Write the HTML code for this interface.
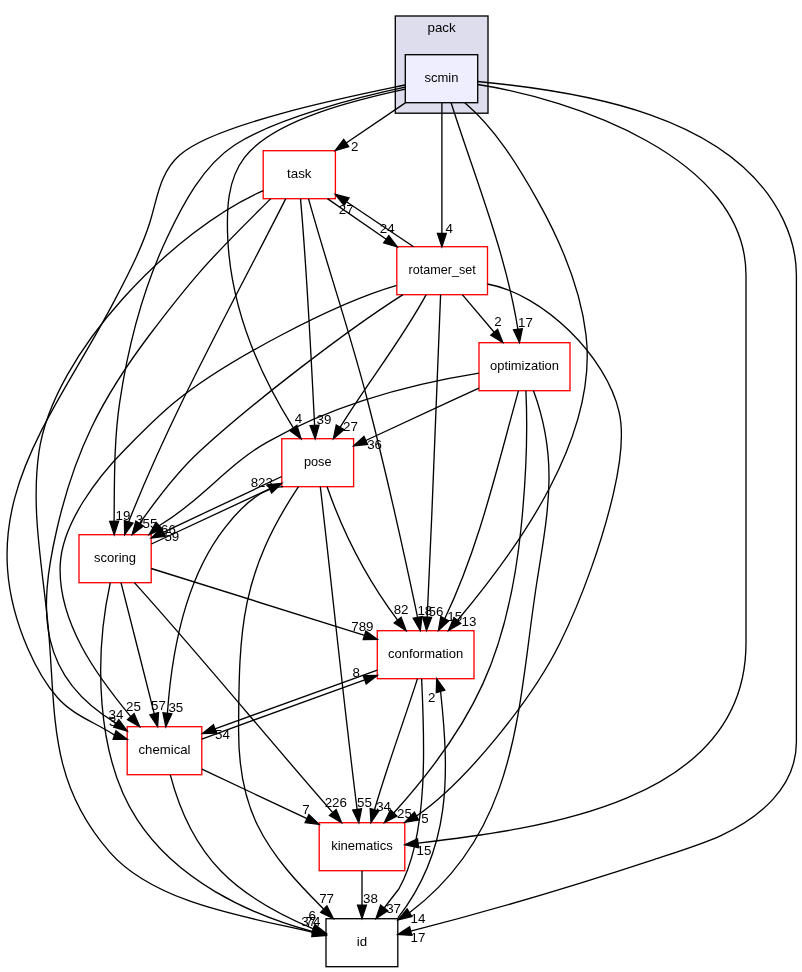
<!DOCTYPE html>
<html><head><meta charset="utf-8"><title>scmin</title>
<style>html,body{margin:0;padding:0;background:#fff}svg{display:block;will-change:transform}text{font-family:'Liberation Sans', 'Helvetica', 'Arial', sans-serif;font-size:13.33px;fill:#000}</style></head>
<body>
<svg width="802" height="972" viewBox="0 0 802 972">
<rect x="0" y="0" width="802" height="972" fill="#ffffff"/>
<rect x="395.3" y="16.0" width="92.7" height="97.2" fill="#ddddee" stroke="#000" stroke-width="1.33"/>
<text x="441.6" y="32.4" text-anchor="middle">pack</text>
<rect x="405.3" y="54.7" width="72.4" height="48.0" fill="#eeeeff" stroke="black" stroke-width="1.33"/>
<text x="441.5" y="82.3" text-anchor="middle" textLength="34.0" lengthAdjust="spacingAndGlyphs">scmin</text>
<rect x="263.2" y="150.7" width="72.2" height="48.0" fill="white" stroke="red" stroke-width="1.33"/>
<text x="299.3" y="178.3" text-anchor="middle">task</text>
<rect x="396.8" y="246.7" width="90.7" height="48.0" fill="white" stroke="red" stroke-width="1.33"/>
<text x="442.1" y="274.3" text-anchor="middle" textLength="67.2" lengthAdjust="spacingAndGlyphs">rotamer_set</text>
<rect x="479.0" y="342.7" width="91.0" height="48.0" fill="white" stroke="red" stroke-width="1.33"/>
<text x="524.5" y="370.3" text-anchor="middle" textLength="69.0" lengthAdjust="spacingAndGlyphs">optimization</text>
<rect x="281.8" y="438.7" width="71.8" height="48.0" fill="white" stroke="red" stroke-width="1.33"/>
<text x="317.7" y="466.3" text-anchor="middle" textLength="27.6" lengthAdjust="spacingAndGlyphs">pose</text>
<rect x="79.0" y="534.7" width="72.2" height="48.0" fill="white" stroke="red" stroke-width="1.33"/>
<text x="115.1" y="562.3" text-anchor="middle" textLength="42.0" lengthAdjust="spacingAndGlyphs">scoring</text>
<rect x="377.3" y="630.7" width="96.7" height="48.0" fill="white" stroke="red" stroke-width="1.33"/>
<text x="425.6" y="658.3" text-anchor="middle" textLength="75.3" lengthAdjust="spacingAndGlyphs">conformation</text>
<rect x="127.2" y="726.7" width="74.6" height="48.0" fill="white" stroke="red" stroke-width="1.33"/>
<text x="164.5" y="754.3" text-anchor="middle" textLength="52.0" lengthAdjust="spacingAndGlyphs">chemical</text>
<rect x="319.2" y="822.7" width="85.6" height="48.0" fill="white" stroke="red" stroke-width="1.33"/>
<text x="362.0" y="850.3" text-anchor="middle" textLength="61.7" lengthAdjust="spacingAndGlyphs">kinematics</text>
<rect x="326.0" y="918.7" width="71.8" height="48.0" fill="white" stroke="black" stroke-width="1.33"/>
<text x="361.9" y="946.3" text-anchor="middle">id</text>
<path d="M405.3,102.9 L346.2,143.0" fill="none" stroke="#000" stroke-width="1.33"/>
<polygon points="343.7,139.3 335.2,150.5 348.7,146.7" fill="#000" stroke="#000" stroke-width="1.33"/>
<text x="354.6" y="151.4" text-anchor="middle">2</text>
<path d="M441.9,102.7 L441.9,233.4" fill="none" stroke="#000" stroke-width="1.33"/>
<polygon points="437.4,233.4 441.9,246.7 446.3,233.4" fill="#000" stroke="#000" stroke-width="1.33"/>
<text x="449.2" y="232.9" text-anchor="middle">4</text>
<path d="M451.1,102.7 C474.8,177.4 505.5,251.5 517.9,329.3" fill="none" stroke="#000" stroke-width="1.33"/>
<polygon points="513.5,329.8 519.5,342.5 522.3,328.7" fill="#000" stroke="#000" stroke-width="1.33"/>
<text x="525.4" y="327.0" text-anchor="middle">17</text>
<path d="M405.3,89.2 C362.1,98.6 274.7,118.3 244.6,157.4 C227.2,180.0 226.6,210.0 227.7,237.2 C230.6,305.3 257.4,370.8 293.3,427.8" fill="none" stroke="#000" stroke-width="1.33"/>
<polygon points="289.7,430.4 301.0,438.7 296.9,425.3" fill="#000" stroke="#000" stroke-width="1.33"/>
<text x="298.5" y="423.0" text-anchor="middle">4</text>
<path d="M405.3,87.2 C360.2,96.4 275.2,118.7 234.7,145.0 C203.1,165.5 182.9,204.2 167.3,237.2 C143.5,287.5 127.9,347.3 119.7,402.3 C113.8,441.5 114.5,481.7 114.1,521.3" fill="none" stroke="#000" stroke-width="1.33"/>
<polygon points="109.7,521.3 114.2,534.6 118.6,521.2" fill="#000" stroke="#000" stroke-width="1.33"/>
<text x="123.0" y="520.1" text-anchor="middle">19</text>
<path d="M464.8,102.7 C495.3,128.6 517.8,165.3 537.2,199.8 C559.9,240.1 580.5,288.5 586.0,335.0 C598.1,436.6 519.6,546.4 457.4,620.5" fill="none" stroke="#000" stroke-width="1.33"/>
<polygon points="454.0,617.6 448.5,630.5 460.7,623.5" fill="#000" stroke="#000" stroke-width="1.33"/>
<text x="468.9" y="626.1" text-anchor="middle">13</text>
<path d="M405.3,85.0 C358.0,94.9 216.2,122.7 179.8,155.0 C159.3,173.1 157.5,197.9 149.9,222.3 C141.5,249.0 127.9,274.9 115.0,299.6 C52.4,419.6 -32.9,508.2 27.9,648.7 C35.2,665.5 45.2,683.7 57.4,697.5 C73.3,715.6 95.3,722.3 114.6,735.1" fill="none" stroke="#000" stroke-width="1.33"/>
<polygon points="113.1,739.3 127.2,739.4 116.0,730.9" fill="#000" stroke="#000" stroke-width="1.33"/>
<text x="112.7" y="725.7" text-anchor="middle">3</text>
<path d="M477.7,84.5 C570.3,98.9 746.0,156.5 746.0,275.0 C746.0,397.7 746.0,520.3 746.0,643.0 C746.0,803.6 538.2,828.9 418.0,843.2" fill="none" stroke="#000" stroke-width="1.33"/>
<polygon points="417.5,838.8 404.8,844.8 418.6,847.7" fill="#000" stroke="#000" stroke-width="1.33"/>
<text x="424.0" y="855.2" text-anchor="middle">15</text>
<path d="M477.7,81.5 C580.5,91.2 733.1,114.4 783.3,219.9 C792.1,238.4 796.4,254.8 796.4,275.0 C796.4,430.7 796.4,586.3 796.4,742.0 C796.4,787.6 759.0,818.2 720.4,835.8 C701.5,844.4 674.3,852.8 654.6,859.3 C573.8,886.0 493.2,910.1 410.7,931.1" fill="none" stroke="#000" stroke-width="1.33"/>
<polygon points="409.6,926.8 397.8,934.5 411.8,935.4" fill="#000" stroke="#000" stroke-width="1.33"/>
<text x="418.0" y="941.9" text-anchor="middle">17</text>
<path d="M327.4,198.6 L386.2,239.2" fill="none" stroke="#000" stroke-width="1.33"/>
<polygon points="383.7,242.9 397.2,246.8 388.8,235.6" fill="#000" stroke="#000" stroke-width="1.33"/>
<text x="387.2" y="233.3" text-anchor="middle">24</text>
<path d="M300.5,198.6 C307.2,274.0 310.8,349.8 314.6,425.4" fill="none" stroke="#000" stroke-width="1.33"/>
<polygon points="310.1,425.6 315.2,438.7 319.0,425.2" fill="#000" stroke="#000" stroke-width="1.33"/>
<text x="323.9" y="423.5" text-anchor="middle">39</text>
<path d="M285.8,198.6 C231.6,305.6 172.9,410.2 128.6,521.9" fill="none" stroke="#000" stroke-width="1.33"/>
<polygon points="124.4,520.6 124.7,534.6 132.9,523.2" fill="#000" stroke="#000" stroke-width="1.33"/>
<text x="139.4" y="523.9" text-anchor="middle">3</text>
<path d="M308.5,198.6 C327.2,266.0 349.9,332.3 367.4,400.0 C386.0,471.8 402.4,544.8 417.6,617.4" fill="none" stroke="#000" stroke-width="1.33"/>
<polygon points="413.3,618.3 420.3,630.5 422.0,616.5" fill="#000" stroke="#000" stroke-width="1.33"/>
<text x="424.8" y="614.9" text-anchor="middle">18</text>
<path d="M270.8,198.6 C246.7,222.7 222.2,246.3 199.8,272.1 C179.7,295.2 168.5,309.9 149.9,334.5 C101.2,398.9 74.6,451.5 56.7,530.0 C38.4,610.1 37.2,676.6 116.3,723.4" fill="none" stroke="#000" stroke-width="1.33"/>
<polygon points="113.7,727.0 127.2,731.0 118.8,719.7" fill="#000" stroke="#000" stroke-width="1.33"/>
<text x="116.0" y="719.0" text-anchor="middle">34</text>
<path d="M263.3,190.6 C174.3,229.1 52.9,352.7 38.9,452.4 C30.3,513.2 43.9,574.2 48.9,634.7 C55.7,718.1 49.7,783.7 109.7,852.1 C155.0,903.8 248.5,917.2 313.1,932.3" fill="none" stroke="#000" stroke-width="1.33"/>
<polygon points="312.0,936.6 326.0,935.5 314.1,928.0" fill="#000" stroke="#000" stroke-width="1.33"/>
<text x="308.7" y="925.9" text-anchor="middle">37</text>
<path d="M413.6,246.7 L346.5,201.7" fill="none" stroke="#000" stroke-width="1.33"/>
<polygon points="349.0,198.0 335.4,194.3 344.0,205.4" fill="#000" stroke="#000" stroke-width="1.33"/>
<text x="346.2" y="214.4" text-anchor="middle">27</text>
<path d="M462.3,294.6 L494.2,332.3" fill="none" stroke="#000" stroke-width="1.33"/>
<polygon points="490.8,335.2 502.8,342.5 497.6,329.4" fill="#000" stroke="#000" stroke-width="1.33"/>
<text x="498.0" y="326.0" text-anchor="middle">2</text>
<path d="M426.2,294.6 C400.9,341.1 367.9,382.3 340.2,427.2" fill="none" stroke="#000" stroke-width="1.33"/>
<polygon points="336.3,425.0 333.4,438.7 344.0,429.5" fill="#000" stroke="#000" stroke-width="1.33"/>
<text x="350.4" y="431.3" text-anchor="middle">27</text>
<path d="M403.0,294.6 C343.9,332.1 250.9,404.4 200.0,451.0 C176.6,472.4 157.8,497.7 139.6,523.5" fill="none" stroke="#000" stroke-width="1.33"/>
<polygon points="135.9,521.0 132.2,534.6 143.3,526.0" fill="#000" stroke="#000" stroke-width="1.33"/>
<text x="150.0" y="527.6" text-anchor="middle">55</text>
<path d="M440.6,294.6 C436.0,402.1 432.5,509.7 427.2,617.2" fill="none" stroke="#000" stroke-width="1.33"/>
<polygon points="422.7,617.0 426.5,630.5 431.6,617.4" fill="#000" stroke="#000" stroke-width="1.33"/>
<text x="436.0" y="616.2" text-anchor="middle">56</text>
<path d="M396.8,285.4 C334.0,303.5 224.8,361.2 174.6,402.3 C157.0,416.7 140.6,433.6 124.7,449.7 C97.2,477.5 62.0,523.7 60.2,564.9 C57.7,621.8 96.2,675.0 130.8,716.7" fill="none" stroke="#000" stroke-width="1.33"/>
<polygon points="127.5,719.7 139.7,726.6 134.1,713.7" fill="#000" stroke="#000" stroke-width="1.33"/>
<text x="133.4" y="711.3" text-anchor="middle">25</text>
<path d="M487.5,284.0 C543.8,294.3 606.2,356.7 619.0,411.6 C625.0,437.0 619.2,468.6 613.5,493.1 C602.2,542.0 582.0,598.3 560.0,643.0 C533.3,697.2 466.9,781.5 416.5,816.0" fill="none" stroke="#000" stroke-width="1.33"/>
<polygon points="414.4,812.1 404.8,822.3 418.6,819.9" fill="#000" stroke="#000" stroke-width="1.33"/>
<text x="425.0" y="823.2" text-anchor="middle">5</text>
<path d="M479.0,388.1 C441.2,405.4 403.7,423.3 365.8,440.5" fill="none" stroke="#000" stroke-width="1.33"/>
<polygon points="363.9,436.4 353.6,445.9 367.6,444.5" fill="#000" stroke="#000" stroke-width="1.33"/>
<text x="374.6" y="449.2" text-anchor="middle">36</text>
<path d="M479.0,373.2 C405.9,384.8 332.2,405.8 267.3,442.1 C228.4,463.9 201.1,500.6 159.1,525.7" fill="none" stroke="#000" stroke-width="1.33"/>
<polygon points="156.1,522.4 149.2,534.6 162.1,529.0" fill="#000" stroke="#000" stroke-width="1.33"/>
<text x="168.4" y="534.3" text-anchor="middle">66</text>
<path d="M518.5,390.6 C497.1,466.9 479.3,546.9 444.7,618.7" fill="none" stroke="#000" stroke-width="1.33"/>
<polygon points="440.8,616.6 438.5,630.5 448.7,620.8" fill="#000" stroke="#000" stroke-width="1.33"/>
<text x="454.7" y="620.6" text-anchor="middle">15</text>
<path d="M525.9,390.6 C528.1,437.0 525.7,483.4 520.9,529.5 C508.0,652.6 474.7,723.6 393.7,813.0" fill="none" stroke="#000" stroke-width="1.33"/>
<polygon points="390.5,809.9 384.5,822.6 396.9,816.1" fill="#000" stroke="#000" stroke-width="1.33"/>
<text x="404.4" y="818.3" text-anchor="middle">25</text>
<path d="M533.4,390.6 C558.7,458.6 548.2,510.9 537.2,580.0 C517.6,703.4 520.7,829.3 409.4,912.7" fill="none" stroke="#000" stroke-width="1.33"/>
<polygon points="407.1,909.0 398.1,919.8 411.8,916.5" fill="#000" stroke="#000" stroke-width="1.33"/>
<text x="418.0" y="922.7" text-anchor="middle">14</text>
<path d="M281.8,476.5 L163.3,532.3" fill="none" stroke="#000" stroke-width="1.33"/>
<polygon points="161.4,528.3 151.2,538.0 165.2,536.3" fill="#000" stroke="#000" stroke-width="1.33"/>
<text x="171.8" y="541.2" text-anchor="middle">59</text>
<path d="M151.4,544.0 L269.7,488.9" fill="none" stroke="#000" stroke-width="1.33"/>
<polygon points="271.6,493.0 281.8,483.3 267.8,484.9" fill="#000" stroke="#000" stroke-width="1.33"/>
<text x="261.8" y="487.1" text-anchor="middle">823</text>
<path d="M327.1,486.7 C343.5,534.0 367.7,580.2 397.6,620.2" fill="none" stroke="#000" stroke-width="1.33"/>
<polygon points="394.2,623.0 406.1,630.5 401.1,617.4" fill="#000" stroke="#000" stroke-width="1.33"/>
<text x="401.1" y="614.4" text-anchor="middle">82</text>
<path d="M283.0,486.7 C259.3,487.3 238.2,510.5 224.8,527.8 C185.0,578.9 171.8,650.3 167.4,713.4" fill="none" stroke="#000" stroke-width="1.33"/>
<polygon points="163.0,712.8 165.8,726.6 171.8,713.9" fill="#000" stroke="#000" stroke-width="1.33"/>
<text x="175.8" y="711.6" text-anchor="middle">35</text>
<path d="M320.3,486.7 C332.8,594.2 343.5,702.0 357.1,809.4" fill="none" stroke="#000" stroke-width="1.33"/>
<polygon points="352.7,810.0 358.8,822.6 361.5,808.8" fill="#000" stroke="#000" stroke-width="1.33"/>
<text x="364.5" y="807.4" text-anchor="middle">55</text>
<path d="M298.5,486.7 C240.9,573.3 238.9,628.2 238.6,730.0 C238.5,763.4 242.5,794.4 257.3,824.8 C273.1,857.4 298.5,883.9 323.8,909.2" fill="none" stroke="#000" stroke-width="1.33"/>
<polygon points="320.7,912.4 333.3,918.5 326.9,906.0" fill="#000" stroke="#000" stroke-width="1.33"/>
<text x="326.6" y="903.4" text-anchor="middle">77</text>
<path d="M151.2,568.5 L364.6,635.3" fill="none" stroke="#000" stroke-width="1.33"/>
<polygon points="363.2,639.6 377.3,639.3 365.9,631.1" fill="#000" stroke="#000" stroke-width="1.33"/>
<text x="362.4" y="630.6" text-anchor="middle">789</text>
<path d="M121.0,582.6 C132.4,626.3 143.0,670.0 154.2,713.7" fill="none" stroke="#000" stroke-width="1.33"/>
<polygon points="149.9,714.9 157.6,726.6 158.5,712.6" fill="#000" stroke="#000" stroke-width="1.33"/>
<text x="158.4" y="710.3" text-anchor="middle">57</text>
<path d="M134.4,582.6 C202.2,657.9 266.1,736.4 332.8,812.6" fill="none" stroke="#000" stroke-width="1.33"/>
<polygon points="329.5,815.5 341.6,822.6 336.1,809.6" fill="#000" stroke="#000" stroke-width="1.33"/>
<text x="335.8" y="807.4" text-anchor="middle">226</text>
<path d="M110.3,582.6 C94.3,655.6 95.3,755.4 137.2,819.7 C176.1,879.4 246.4,913.7 313.0,931.7" fill="none" stroke="#000" stroke-width="1.33"/>
<polygon points="312.0,936.1 326.0,934.5 313.9,927.4" fill="#000" stroke="#000" stroke-width="1.33"/>
<text x="312.1" y="919.6" text-anchor="middle">6</text>
<path d="M377.3,670.2 C323.0,689.3 268.9,708.8 215.0,728.8" fill="none" stroke="#000" stroke-width="1.33"/>
<polygon points="213.4,724.7 202.5,733.5 216.5,733.0" fill="#000" stroke="#000" stroke-width="1.33"/>
<text x="222.4" y="739.1" text-anchor="middle">54</text>
<path d="M201.8,739.0 C255.9,718.8 310.2,699.1 364.7,679.8" fill="none" stroke="#000" stroke-width="1.33"/>
<polygon points="366.2,684.0 377.3,675.4 363.2,675.6" fill="#000" stroke="#000" stroke-width="1.33"/>
<text x="356.2" y="676.8" text-anchor="middle">8</text>
<path d="M417.5,678.6 C403.4,722.4 387.4,765.6 374.5,809.7" fill="none" stroke="#000" stroke-width="1.33"/>
<polygon points="370.2,808.6 371.0,822.6 378.8,810.9" fill="#000" stroke="#000" stroke-width="1.33"/>
<text x="383.6" y="810.8" text-anchor="middle">34</text>
<path d="M421.6,678.6 C424.4,737.1 429.2,835.8 398.8,889.0 C398.8,889.0 385.8,905.8 384.2,908.0" fill="none" stroke="#000" stroke-width="1.33"/>
<polygon points="380.6,905.2 376.0,918.5 387.7,910.7" fill="#000" stroke="#000" stroke-width="1.33"/>
<text x="393.6" y="912.5" text-anchor="middle">37</text>
<path d="M397.9,917.9 C451.6,848.9 449.4,774.3 440.6,691.5" fill="none" stroke="#000" stroke-width="1.33"/>
<polygon points="444.8,690.2 436.7,678.7 436.3,692.7" fill="#000" stroke="#000" stroke-width="1.33"/>
<text x="431.8" y="702.4" text-anchor="middle">2</text>
<path d="M201.9,769.2 L307.0,818.6" fill="none" stroke="#000" stroke-width="1.33"/>
<polygon points="305.1,822.7 319.1,824.3 308.9,814.6" fill="#000" stroke="#000" stroke-width="1.33"/>
<text x="305.9" y="814.4" text-anchor="middle">7</text>
<path d="M170.3,774.8 C192.1,858.2 235.7,896.5 313.4,928.8" fill="none" stroke="#000" stroke-width="1.33"/>
<polygon points="311.9,933.0 326.0,933.2 314.9,924.6" fill="#000" stroke="#000" stroke-width="1.33"/>
<text x="313.0" y="925.9" text-anchor="middle">74</text>
<path d="M362.0,870.8 L362.0,905.2" fill="none" stroke="#000" stroke-width="1.33"/>
<polygon points="357.6,905.2 362.0,918.5 366.4,905.2" fill="#000" stroke="#000" stroke-width="1.33"/>
<text x="370.5" y="903.4" text-anchor="middle">38</text>
</svg></body></html>
